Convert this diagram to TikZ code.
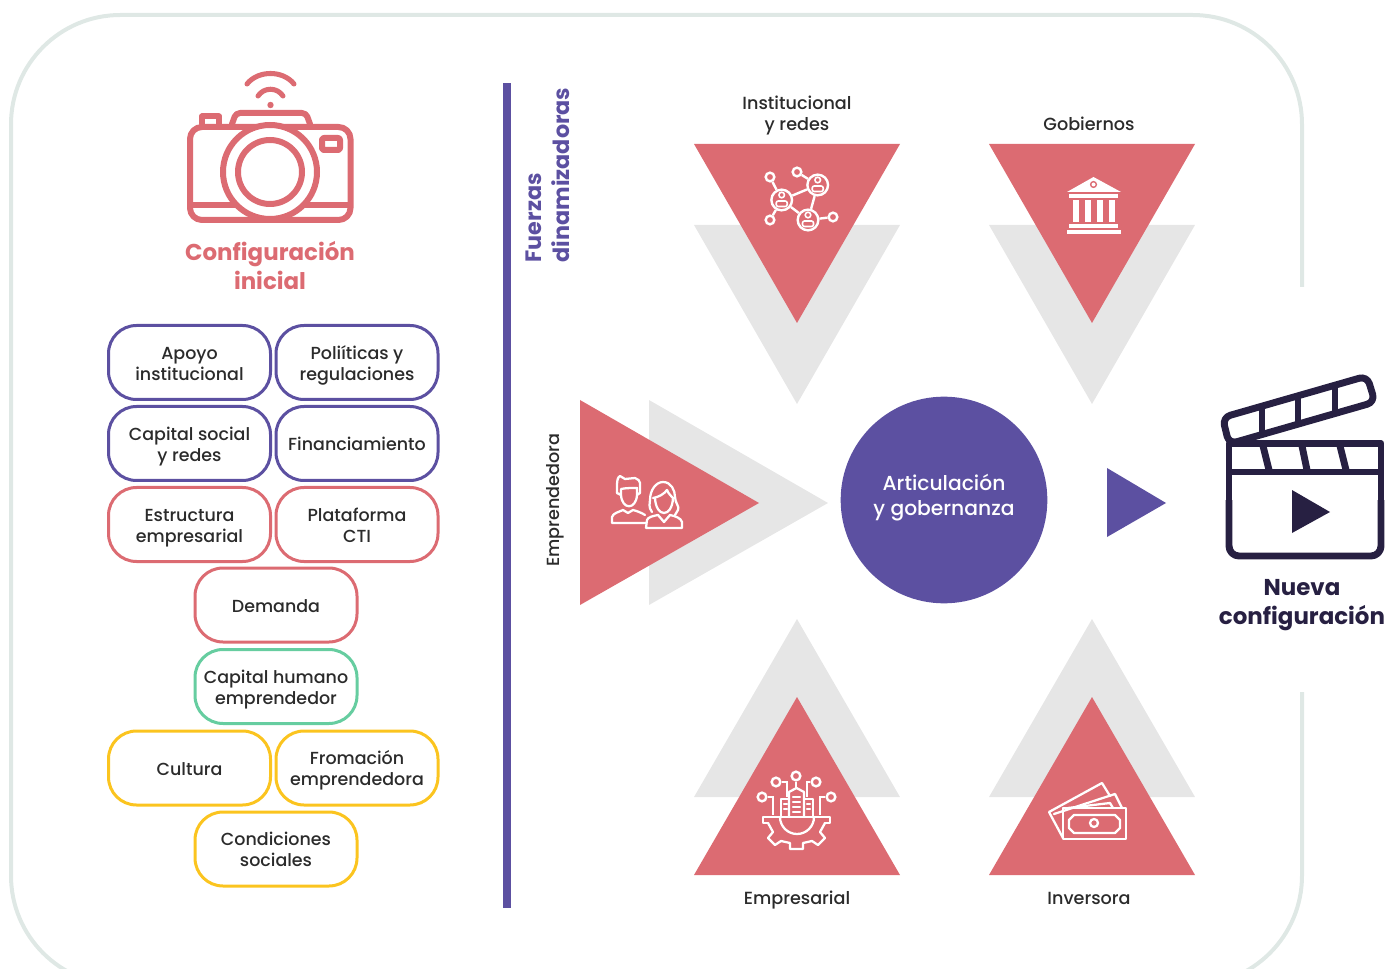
\documentclass[tikz,border=0pt]{standalone}
\usepackage{fontspec}
\setmainfont{Poppins Medium}[BoldFont={Poppins Bold}]
\usepackage{tikz}
\definecolor{rojo}{HTML}{DC6B72}
\definecolor{morado}{HTML}{5C50A1}
\definecolor{amarillo}{HTML}{FBC41F}
\definecolor{verde}{HTML}{66CDA0}
\definecolor{oscuro}{HTML}{272042}
\definecolor{marco}{HTML}{DFE8E5}
\definecolor{gris}{HTML}{E6E6E6}
\definecolor{texto}{HTML}{2B2B2B}
\newcommand{\dos}[2]{\rule{0pt}{15pt}#1\\#2\rule[-4.2pt]{0pt}{4.2pt}}
\newcommand{\dosbig}[2]{\rule{0pt}{18pt}#1\\#2\rule[-6pt]{0pt}{6pt}}

\begin{document}
\begin{tikzpicture}[x=0.75pt,y=-0.75pt]
\tikzset{struts/.style = {execute at begin node={\rule{0pt}{14pt}},execute at end node={\rule[-3.5pt]{0pt}{3.5pt}}}}
\tikzset{box/.style = {shape=rectangle,draw,struts,rounded corners=21pt,line width=2.25pt,minimum width=121.5pt,minimum height=55.5pt,inner sep=0pt,align=center,text=texto,font=\fontsize{13.1}{16}\selectfont}}
\tikzset{label/.style = {struts,align=center,text=texto,inner sep=0pt,font=\fontsize{13.2}{16}\selectfont}}
\tikzset{title/.style = {align=center,inner sep=0pt,font=\fontsize{17.2}{22}\selectfont\bfseries}}
\tikzset{ink/.style = {draw=white,line width=1.7pt,line join=round,line cap=round}}
\tikzset{hub/.style = {shape=circle,draw=white,line width=1.8pt,inner sep=0pt,minimum size=15.5pt}}
\tikzset{tip/.style = {shape=circle,draw=white,line width=1.8pt,inner sep=0pt,minimum size=6.5pt}}
\tikzset{edge/.style = {draw=white,line width=1.8pt}}
\tikzset{cam/.style = {draw=rojo,line width=4.5pt,line join=round,line cap=round}}
\tikzset{clap/.style = {draw=oscuro,line width=5.2pt,line join=round}}
\useasboundingbox (0,0) rectangle (1388,969);
\clip (0,0) rectangle (1388,969);
% frame
\draw[marco,line width=3pt,rounded corners=82pt] (1302,287) -- (1302,15) -- (11,15) -- (11,985) -- (1302,985) -- (1302,692);
% left column
\draw[cam,rounded corners=3pt] (232,124) -- (236,113) -- (306,113) -- (310,124);
\draw[cam] (202,124) -- (202,116.5) -- (219,116.5) -- (219,124);
\draw[cam,rounded corners=9pt] (190,127) rectangle (350.5,220);
\draw[cam] (190,205) -- (350,205);
\draw[cam,rounded corners=1.5pt] (322,138) rectangle (340,150);
\draw[cam,fill=white] (270,172) circle (47);
\draw[cam,fill=white] (270,172) circle (32);
\fill[rojo] (270.5,105) circle (3.2);
\draw[cam,line width=3.8pt] (258,96) .. controls (264,87) and (277,87) .. (283,96);
\draw[cam,line width=3.8pt] (247,84) .. controls (258,70) and (283,70) .. (294,84);
\node[title,text=rojo] (inicial) at (270,267) {\dosbig{Configuración}{inicial}};
\node[box,draw=morado] (apoyo) at (189.5,362.5) {\dos{Apoyo}{institucional}};
\node[box,draw=morado] (politicas) at (357,362.5) {\dos{Poliíticas y}{regulaciones}};
\node[box,draw=morado] (capital) at (189.5,443.5) {\dos{Capital social}{y redes}};
\node[box,draw=morado] (finan) at (357,443.5) {Financiamiento};
\node[box,draw=rojo] (estructura) at (189.5,524.5) {\dos{Estructura}{empresarial}};
\node[box,draw=rojo] (plataforma) at (357,524.5) {\dos{Plataforma}{CTI}};
\node[box,draw=rojo] (demanda) at (276,605) {Demanda};
\node[box,draw=verde] (humano) at (276,686.5) {\dos{Capital humano}{emprendedor}};
\node[box,draw=amarillo] (cultura) at (189.5,768) {Cultura};
\node[box,draw=amarillo] (formacion) at (357,768) {\dos{Fromación}{emprendedora}};
\node[box,draw=amarillo] (sociales) at (276,849) {\dos{Condiciones}{sociales}};
% bar
\fill[morado] (503,83) rectangle (511,908);
\node[rotate=90,text=morado,anchor=north west,align=left,inner sep=0pt,font=\fontsize{16.7}{21}\selectfont\bfseries] (fuerzas) at (526,262.5) {Fuerzas\\dinamizadoras};
\node[rotate=90,label] (emprende) at (552.5,500) {Emprendedora};
% triangles
\fill[gris] (694,225) -- (900,225) -- (797,404) -- cycle;
\fill[gris] (989,225) -- (1195,225) -- (1092,404) -- cycle;
\fill[gris] (694,797) -- (900,797) -- (797,619) -- cycle;
\fill[gris] (989,797) -- (1195,797) -- (1092,619) -- cycle;
\fill[gris] (649,400) -- (649,605) -- (828,503) -- cycle;
\fill[rojo] (694,144) -- (900,144) -- (797,323) -- cycle;
\fill[rojo] (989,144) -- (1195,144) -- (1092,323) -- cycle;
\fill[rojo] (694,875) -- (900,875) -- (797,697) -- cycle;
\fill[rojo] (989,875) -- (1195,875) -- (1092,697) -- cycle;
\fill[rojo] (580,400) -- (580,605) -- (759,503) -- cycle;
\node[label] (inst) at (797,112.5) {\dos{Institucional}{y redes}};
\node[label] (gob) at (1089,124) {Gobiernos};
\node[label] (emp) at (797,897) {Empresarial};
\node[label] (inv) at (1089,897) {Inversora};
% centre
\node[shape=circle,fill=morado,text=white,minimum size=155pt,inner sep=0pt,align=center,font=\fontsize{15.2}{18.75}\selectfont] (arti) at (944,500) {\rule{0pt}{15pt}Articulación\\y gobernanza\rule[-11pt]{0pt}{11pt}};
\fill[morado] (1107,468) -- (1107,537) -- (1166,503) -- cycle;
% network icon
\node[hub] (a) at (781.7,200) {};
\node[hub] (b) at (817.7,185) {};
\node[hub] (c) at (808,220) {};
\node[tip] (p) at (770,177) {};
\node[tip] (q) at (797,172) {};
\node[tip] (r) at (770,220) {};
\node[tip] (s) at (833,217) {};
\draw[edge] (a) to (b);
\draw[edge] (b) to (c);
\draw[edge] (a) to (c);
\draw[edge] (a) to (p);
\draw[edge] (a) to (r);
\draw[edge] (b) to (q);
\draw[edge] (c) to (s);
\foreach \x/\y in {781.7/200,817.7/185,808/220} {
\draw[ink,line width=1.2pt] (\x,\y-5) circle (2.8);
\draw[ink,line width=1.2pt,rounded corners=1.5pt] (\x-5.5,\y+1) rectangle (\x+5.5,\y+6.5);
}
% bank icon
\fill[white] (1067,192) -- (1093.5,177) -- (1121,192) -- cycle;
\fill[rojo] (1093.5,184.5) circle (3.6);
\fill[white] (1093.5,184.5) circle (2);
\fill[white] (1069,194) rectangle (1118,198);
\foreach \x in {1073,1085,1097,1109} {
\fill[white] (\x,200) rectangle (\x+5.5,222);
}
\fill[white] (1069,224) rectangle (1118,228);
\fill[white] (1067,230) rectangle (1121,234);
% people icon
\draw[ink] (617,493) -- (617,485) .. controls (617,480) and (618,477) .. (620,476) -- (625,479) -- (635,478) .. controls (638,479) and (640,481) .. (640,483) -- (640,493);
\draw[ink] (617,493) -- (621,495) -- (621,489) .. controls (625,488) and (632,488) .. (637,488) -- (637,495) -- (640,493);
\draw[ink] (621,495) .. controls (622,510) and (636,510) .. (637,495);
\draw[ink] (646,523) -- (612,523) -- (612,517) .. controls (613,513) and (619,512) .. (623,510) -- (628,513) -- (633,510) .. controls (637,511) and (642,513) .. (645,515);
\draw[ink] (652,512) .. controls (648,507) and (650,503) .. (650,500) .. controls (650,490) and (656,482) .. (663,482) .. controls (671,482) and (675,490) .. (675,497) .. controls (675,503) and (680,507) .. (678,510) -- (675,515);
\draw[ink] (655,498) .. controls (656,518) and (672,518) .. (673,498);
\draw[ink] (653,498) .. controls (659,497) and (664,494) .. (667,490) .. controls (668,493) and (671,496) .. (673,498);
\draw[ink] (646,528) -- (682,528) -- (682,522) .. controls (681,518) and (675,516) .. (670,515) -- (664,522) -- (658,515) .. controls (653,516) and (648,517) .. (647,520) -- (646,528);
% gear icon
\draw[ink] (768,823) -- (763,823) -- (763,817) -- (830,817) -- (830,823) -- (825,823);
\draw[ink] (768,823) -- (773,832) -- (768,838) -- (775,845) -- (781,841) -- (790,843) -- (790,849) -- (803,849) -- (803,843) -- (812,841) -- (818,845) -- (825,838) -- (820,832) -- (825,823);
\draw[ink] (780,817) arc[start angle=180,end angle=0,radius=17];
\draw[ink] (789,817) -- (789,792) -- (796.5,788) -- (804,792) -- (804,817);
\draw[ink] (789,799) -- (781,799) -- (781,817);
\draw[ink] (804,799) -- (813,799) -- (813,817);
\foreach \y in {797,802,807,812} {
\draw[ink] (793,\y) -- (800,\y);
}
\foreach \y in {804,809} {
\draw[ink] (784,\y) -- (787,\y);
\draw[ink] (807,\y) -- (810,\y);
}
\node[tip] (g1) at (796,776) {};
\node[tip] (g2) at (776,782) {};
\node[tip] (g3) at (816,782) {};
\node[tip] (g4) at (762,797) {};
\node[tip] (g5) at (831,797) {};
\draw[edge] (g1) -- (796,788);
\draw[edge] (g2) -- (787,782) -- (787,797);
\draw[edge] (g3) -- (807,782) -- (807,797);
\draw[edge] (g4) -- (773,797) -- (773,815);
\draw[edge] (g5) -- (820,797) -- (820,815);
% money icon
\draw[ink] (1063,838) -- (1049,812) -- (1102,783) -- (1110,796);
\draw[ink] (1054,814) -- (1115,794) -- (1122,808);
\draw[ink] (1068,808) -- (1110,803) -- (1113,808);
\draw[ink] (1063,808) rectangle (1126,839);
\draw[ink] (1074,815) -- (1115,815) -- (1120,820) -- (1120,828) -- (1115,833) -- (1074,833) -- (1069,828) -- (1069,820) -- cycle;
\draw[ink] (1094,823) circle (4);
% clapper icon
\draw[clap] (1381,500) -- (1381,443.5) -- (1229,443.5) -- (1229,500);
\draw[clap,rounded corners=7.5pt] (1229,500) -- (1229,556) -- (1381,556) -- (1381,500);
\draw[clap] (1229,472) -- (1381,472);
\draw[clap] (1263,446) -- (1269,470);
\draw[clap] (1302,446) -- (1307,470);
\draw[clap] (1340,446) -- (1346,470);
\draw[clap,rounded corners=6pt] (1229,444) -- (1222.5,417.5) -- (1367,376) -- (1375,402) -- cycle;
\draw[clap] (1262,408) -- (1262,434);
\draw[clap] (1298,397) -- (1298,424);
\draw[clap] (1335,386) -- (1335,413);
\fill[oscuro] (1292,490) -- (1292,533) -- (1330,512) -- cycle;
\node[title,text=oscuro] (nueva) at (1302,602) {\dosbig{Nueva}{configuración}};
\end{tikzpicture}
\end{document}
